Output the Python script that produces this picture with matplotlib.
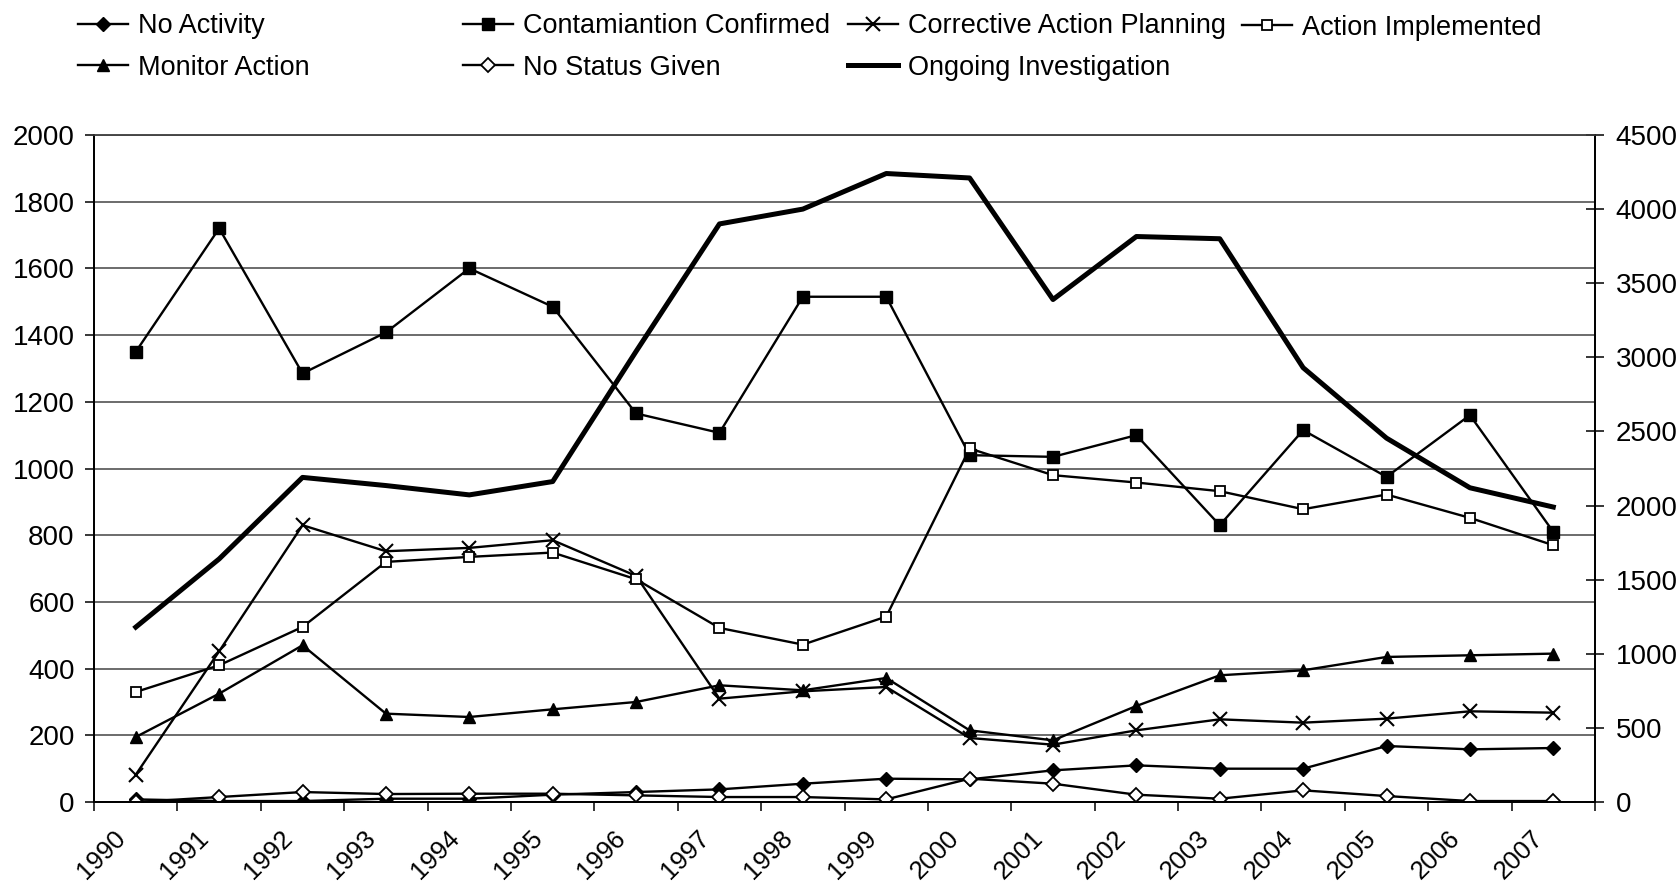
import matplotlib
matplotlib.use("Agg")
import matplotlib.pyplot as plt
import matplotlib.transforms as mtransforms
import numpy as np


###================ Data =================###

years = [str(y) for y in range(1990, 2008)]

# left axis
no_activity = [8, 3, 3, 10, 10, 22, 30, 38, 55, 70, 68, 95, 110, 100, 100, 168, 158, 162]
contamination = [1350, 1720, 1285, 1408, 1600, 1485, 1165, 1107, 1515, 1515,
                 1040, 1035, 1100, 830, 1115, 975, 1160, 810]
corrective = [82, 452, 830, 752, 762, 785, 678, 310, 332, 345, 192, 172, 215, 248, 238, 250, 272, 268]
implemented = [330, 410, 525, 720, 735, 748, 668, 522, 472, 556, 1060, 980, 958, 932, 878, 922, 852, 770]
monitor = [195, 325, 470, 265, 255, 278, 300, 350, 335, 372, 215, 185, 288, 380, 395, 435, 440, 445]
no_status = [0, 15, 30, 24, 25, 25, 20, 15, 15, 8, 70, 55, 22, 10, 35, 18, 3, 3]

# right axis
ongoing = [1180, 1640, 2190, 2135, 2072, 2162, 3040, 3900, 4000, 4240,
           4210, 3390, 3815, 3800, 2930, 2455, 2120, 1990]

left_ticks = np.arange(0, 2001, 200)
right_ticks = np.arange(0, 4501, 500)


###================ Plot =================###

plt.rcParams['font.family'] = ['Liberation Sans', 'DejaVu Sans']

fig = plt.figure(figsize=(16.8, 8.88), dpi=100)
ax = fig.add_axes([0.056, 0.0968, 0.8934, 0.7512])
ax2 = ax.twinx()

x = np.arange(len(years))
thin = dict(color='black', lw=1.7, mec='black')

h_noact, = ax.plot(x, no_activity, marker='D', ms=7, mfc='black', label='No Activity', **thin)
h_cont, = ax.plot(x, contamination, marker='s', ms=8, mfc='black', label='Contamiantion Confirmed', **thin)
h_corr, = ax.plot(x, corrective, marker='x', ms=10, mew=1.5, label='Corrective Action Planning', **thin)
h_impl, = ax.plot(x, implemented, marker='s', ms=7.5, mfc='white', mew=1.3, label='Action Implemented', **thin)
h_mon, = ax.plot(x, monitor, marker='^', ms=9, mfc='black', label='Monitor Action', **thin)
h_nost, = ax.plot(x, no_status, marker='D', ms=7, mfc='white', mew=1.3, label='No Status Given', **thin)
h_ong, = ax2.plot(x, ongoing, color='black', lw=3.6, label='Ongoing Investigation')

# axes ranges and grid
ax.set_xlim(-0.5, len(years) - 0.5)
ax.set_ylim(0, 2000)
ax.set_yticks(left_ticks)
ax2.set_ylim(0, 4500)
ax2.set_yticks(right_ticks)
ax.grid(axis='y', color='#444444', lw=1.1)
ax.set_axisbelow(True)

# category labels sit between boundary ticks
ax.set_xticks(x)
ax.set_xticklabels(years, rotation=45, ha='right', va='center', rotation_mode='anchor')
ax.set_xticks(np.arange(-0.5, len(years)), minor=True)
ax.tick_params(axis='x', which='major', length=0, pad=23.5, labelsize=18.5)
ax.tick_params(axis='x', which='minor', length=6.5, width=1.1, direction='out')
shift = mtransforms.ScaledTranslation(-14 / 100, 0, fig.dpi_scale_trans)
for lab in ax.get_xticklabels():
    lab.set_transform(lab.get_transform() + shift)

ax.tick_params(axis='y', length=6.5, width=1.1, direction='out', pad=7.5, labelsize=20)
ax2.tick_params(axis='y', length=13, width=1.1, direction='inout', pad=8.5, labelsize=20)

for a in (ax, ax2):
    for side in ('left', 'right', 'bottom'):
        a.spines[side].set_color('black')
        a.spines[side].set_linewidth(1.3)
    a.spines['top'].set_color('#444444')
    a.spines['top'].set_linewidth(1.1)

# legend laid out in loose columns like the original
legend_kw = dict(frameon=False, fontsize=19.5, handlelength=1.85, handletextpad=0.35,
                 labelspacing=0.58, borderpad=0, borderaxespad=0)
fig.legend(handles=[h_noact, h_mon], loc='center left', bbox_to_anchor=(0.0464, 0.947), **legend_kw)
fig.legend(handles=[h_cont, h_nost], loc='center left', bbox_to_anchor=(0.2756, 0.947), **legend_kw)
fig.legend(handles=[h_corr, h_ong], loc='center left', bbox_to_anchor=(0.5048, 0.947), **legend_kw)
fig.legend(handles=[h_impl], loc='center left', bbox_to_anchor=(0.7395, 0.969), **legend_kw)

fig.savefig('out.png', dpi=100)
